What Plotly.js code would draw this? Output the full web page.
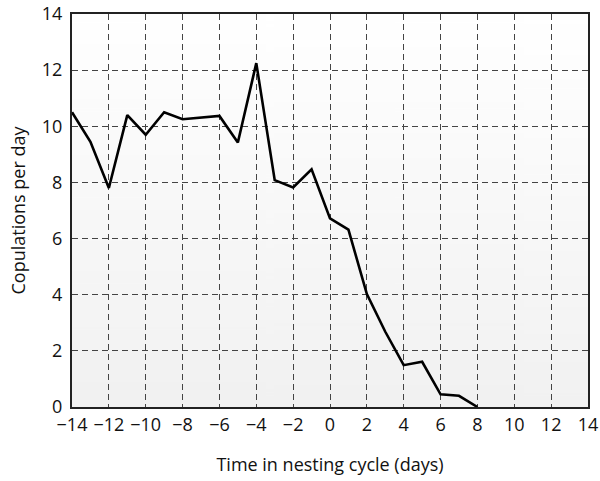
<!DOCTYPE html>
<html>
<head>
<meta charset="utf-8">
<script src="https://cdn.plot.ly/plotly-3.0.1.min.js"></script>
<style>html,body{margin:0;padding:0;background:#fff;}</style>
</head>
<body>
<div id="chart" style="width:600px;height:481px;"></div>
<script>
const days = [-14,-13,-12,-11,-10,-9,-8,-7,-6,-5,-4,-3,-2,-1,0,1,2,3,4,5,6,7,8];
const copulations = [10.5,9.45,7.8,10.4,9.7,10.5,10.25,10.3,10.37,9.42,12.25,8.08,7.82,8.47,6.72,6.32,4.02,2.68,1.49,1.61,0.45,0.4,0];
const xRange = [-14, 14];
const yRange = [0, 14];
const xTicks = [-14,-12,-10,-8,-6,-4,-2,0,2,4,6,8,10,12,14];
const yTicks = [0,2,4,6,8,10,12,14];

// vertical gradient background image (white at top to light grey at bottom)
const cv = document.createElement('canvas');
cv.width = 4; cv.height = 256;
const ctx = cv.getContext('2d');
const g = ctx.createLinearGradient(0, 0, 0, 256);
g.addColorStop(0, '#ffffff');
g.addColorStop(1, '#f1f1f1');
ctx.fillStyle = g;
ctx.fillRect(0, 0, 4, 256);
const bgURL = cv.toDataURL('image/png');

const line = {
  x: days, y: copulations, type: 'scatter', mode: 'lines',
  line: {color: '#000', width: 2.6}, showlegend: false
};
const font = {family: '"Open Sans", sans-serif', size: 18, color: '#111'};
const layout = {
  width: 600, height: 481,
  margin: {l: 72, r: 12, t: 14, b: 74},
  paper_bgcolor: '#fff', plot_bgcolor: 'rgba(0,0,0,0)',
  font: font,
  showlegend: false,
  images: [{source: bgURL, xref: 'paper', yref: 'paper', x: 0, y: 1,
    sizex: 1, sizey: 1, sizing: 'stretch', xanchor: 'left', yanchor: 'top', layer: 'below'}],
  xaxis: {
    range: xRange, tickvals: xTicks, ticks: '', showline: true, mirror: true,
    linecolor: '#222', linewidth: 2, showgrid: true, gridcolor: '#444',
    griddash: '6px,4px', gridwidth: 1, zeroline: false,
    tickfont: font, fixedrange: true,
    title: {text: 'Time in nesting cycle (days)', font: font, standoff: 24}
  },
  yaxis: {
    range: yRange, tickvals: yTicks, ticks: '', showline: true, mirror: true,
    linecolor: '#222', linewidth: 2, showgrid: true, gridcolor: '#444',
    griddash: '6px,4px', gridwidth: 1, zeroline: false,
    tickfont: font, fixedrange: true, ticklabelstandoff: 4,
    title: {text: 'Copulations per day', font: font, standoff: 12}
  }
};
Plotly.newPlot('chart', [line], layout, {displayModeBar: false, staticPlot: true});
</script>
</body>
</html>
